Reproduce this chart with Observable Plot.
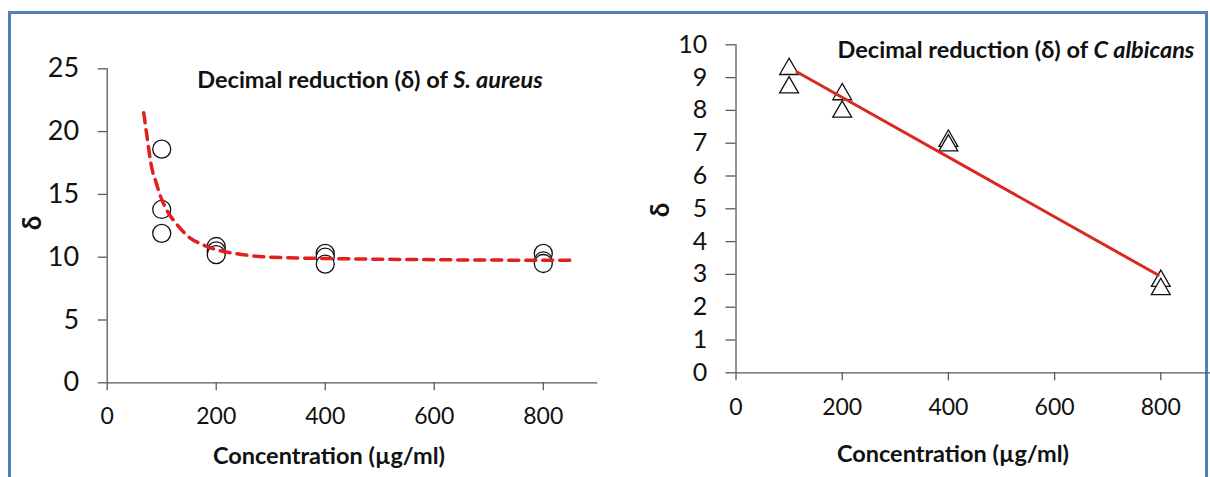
<!DOCTYPE html>
<html>
<head>
<meta charset="utf-8">
<script src="https://cdn.jsdelivr.net/npm/d3@7"></script>
<script src="https://cdn.jsdelivr.net/npm/@observablehq/plot@0.6"></script>
<style>
  html, body { margin: 0; padding: 0; background: #fff; }
  body { width: 1210px; height: 477px; overflow: hidden; position: relative; font-family: Lato, "Open Sans", sans-serif; color: #111; }
  #frame { position: absolute; left: 8px; top: 11px; width: 1200px; height: 480px; border: 3px solid #4f81bd; box-sizing: border-box; border-bottom: none; }
  .panel { position: absolute; top: 0; }
  .panel svg { max-width: none !important; }
  .txt { position: absolute; white-space: nowrap; transform: translate(-50%, -50%); font-weight: bold; color: #111; }
  .title { font-size: 23.5px; }
  .xlab { font-size: 23.5px; }
  .ylab { font-size: 26px; transform: translate(-50%, -50%) rotate(-90deg); }
</style>
</head>
<body>
<div id="frame"></div>
<div id="left" class="panel" style="left:0px; width:605px"></div>
<div id="right" class="panel" style="left:605px; width:612px"></div>

<div class="txt title" style="left:370px; top:79px">Decimal reduction (δ) of <i>S. aureus</i></div>
<div class="txt title" style="left:1016px; top:49px">Decimal reduction (δ) of <i>C albicans</i></div>
<div class="txt xlab" style="left:329px; top:455px">Concentration (µg/ml)</div>
<div class="txt xlab" style="left:953px; top:453px">Concentration (µg/ml)</div>
<div class="txt ylab" style="left:31px; top:223px">δ</div>
<div class="txt ylab" style="left:659px; top:210px">δ</div>

<script>
// ---- S. aureus (left panel) ----
const saConc = [100, 100, 100, 200, 200, 200, 400, 400, 400, 800, 800, 800];
const saDelta = [18.6, 13.8, 11.9, 10.85, 10.5, 10.2, 10.3, 10.0, 9.45, 10.3, 9.7, 9.5];
// dashed fitted curve
const saFitConc = [67, 75, 80, 90, 100, 110, 130, 150, 175, 200, 250, 300, 400, 600, 860];
const saFitDelta = [21.5, 19.0, 17.5, 15.9, 14.6, 13.7, 12.5, 11.6, 11.0, 10.6, 10.2, 10.0, 9.9, 9.8, 9.75];
const saYTicks = [0, 5, 10, 15, 20, 25];

// ---- C. albicans (right panel) ----
const caConc = [100, 100, 200, 200, 400, 400, 800, 800];
const caDelta = [9.26, 8.7, 8.49, 7.96, 7.07, 6.93, 2.8, 2.55];
// linear trend line endpoints
const caFitConc = [115, 795];
const caFitDelta = [9.17, 2.98];
const caYTicks = [0, 1, 2, 3, 4, 5, 6, 7, 8, 9, 10];

const xTicks = [0, 200, 400, 600, 800];

const sa = saConc.map((c, i) => ({c, d: saDelta[i]}));
const saFit = saFitConc.map((c, i) => ({c, d: saFitDelta[i]}));
const ca = caConc.map((c, i) => ({c, d: caDelta[i]}));
const caFit = caFitConc.map((c, i) => ({c, d: caFitDelta[i]}));

const axisColor = "#595959";
const textColor = "#111";

const left = Plot.plot({
  width: 605,
  height: 477,
  marginLeft: 106.7,
  marginRight: 7.7,
  marginTop: 68.3,
  marginBottom: 94.7,
  style: {fontFamily: "Lato, 'Open Sans', sans-serif", background: "transparent", overflow: "visible", maxWidth: "none"},
  x: {domain: [0, 900]},
  y: {domain: [0, 25]},
  marks: [
    Plot.axisX({ticks: xTicks, tickSize: 8, tickPadding: 17, fontSize: 23, stroke: axisColor, strokeWidth: 1.3, fill: textColor, label: null, tickFormat: d => String(d)}),
    Plot.axisY({ticks: saYTicks, tickSize: 9, tickPadding: 19, fontSize: 27, stroke: axisColor, strokeWidth: 1.3, fill: textColor, label: null, tickFormat: d => String(d)}),
    Plot.ruleY([0], {stroke: axisColor, strokeWidth: 1.3}),
    Plot.ruleX([0], {stroke: axisColor, strokeWidth: 1.3}),
    Plot.dot(sa, {x: "c", y: "d", r: 9, fill: "white", stroke: "#111", strokeWidth: 1.3}),
    Plot.line(saFit, {x: "c", y: "d", curve: "monotone-x", stroke: "#e0201b", strokeWidth: 3.5, strokeDasharray: "10,7"})
  ]
});
document.getElementById("left").appendChild(left);

const right = Plot.plot({
  width: 612,
  height: 477,
  marginLeft: 130.5,
  marginRight: 3.6,
  marginTop: 44.3,
  marginBottom: 104.7,
  style: {fontFamily: "Lato, 'Open Sans', sans-serif", background: "transparent", overflow: "visible", maxWidth: "none"},
  x: {domain: [0, 900]},
  y: {domain: [0, 10]},
  marks: [
    Plot.axisX({ticks: xTicks, tickSize: 8, tickPadding: 17.5, fontSize: 23, stroke: axisColor, strokeWidth: 1.3, fill: textColor, label: null, tickFormat: d => String(d)}),
    Plot.axisY({ticks: caYTicks, tickSize: 10, tickPadding: 18.7, fontSize: 25, stroke: axisColor, strokeWidth: 1.3, fill: textColor, label: null, tickFormat: d => String(d)}),
    Plot.ruleY([0], {stroke: axisColor, strokeWidth: 1.3}),
    Plot.ruleX([0], {stroke: axisColor, strokeWidth: 1.3}),
    Plot.dot(ca, {x: "c", y: "d", r: 7, symbol: "triangle", fill: "white", stroke: "#111", strokeWidth: 1.3}),
    Plot.line(caFit, {x: "c", y: "d", stroke: "#d92a1f", strokeWidth: 3})
  ]
});
document.getElementById("right").appendChild(right);
</script>
</body>
</html>
